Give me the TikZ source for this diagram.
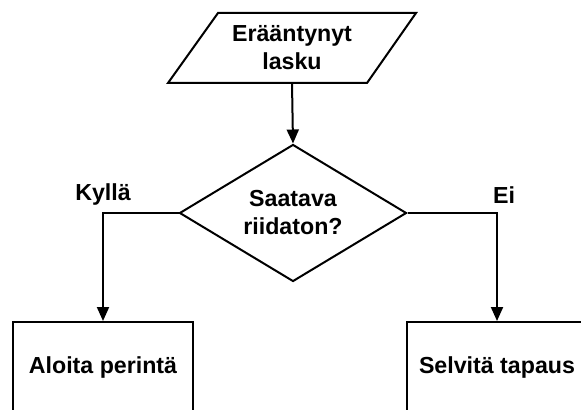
\documentclass[tikz,border=0pt]{standalone}
\usepackage{fontspec}
\setmainfont{Liberation Sans}
\usepackage{tikz}
\usetikzlibrary{arrows.meta}
\usetikzlibrary{shapes.geometric}

\begin{document}
\begin{tikzpicture}[x=0.5pt, y=-0.5pt]
			\tikzset{every node/.style={font=\fontsize{11.6}{14}\selectfont\bfseries, align=center}}
			\tikzset{io/.style={shape = rectangle, minimum width = 100pt, minimum height = 35pt, inner sep = 0pt}}
			\tikzset{choice/.style={shape = diamond, draw, line width = 1pt, aspect = 1.66, minimum width = 113.5pt, minimum height = 68.5pt, inner sep = 0pt}}
			\tikzset{task/.style={shape = rectangle, draw, line width = 1pt, minimum width = 90pt, minimum height = 45pt}}
			\tikzset{edge/.style={-{Triangle[length = 7pt, width = 6pt]}, line width = 1pt}}
			\useasboundingbox (0, 0) rectangle (581, 410);
			%vertices
			\node[io] (lasku) at (292, 48) {Erääntynyt\\lasku};
			\draw[line width = 1pt] (168, 83) -- (218, 13) -- (416, 13) -- (367, 83) -- cycle;
			\node[choice] (riita) at (293, 213) {Saatava\\riidaton?};
			\node[task] (peri) at (103, 367) {Aloita perintä};
			\node[task] (selvita) at (497, 367) {Selvitä tapaus};
			\node (kylla) at (103, 195) {Kyllä};
			\node (ei) at (504, 195) {Ei};
			%edges
			\draw[edge] (lasku.south) -- (riita.north);
			\draw[edge] (riita.west) -| (peri.north);
			\draw[edge] (riita.east) -| (selvita.north);
\end{tikzpicture}
\end{document}
